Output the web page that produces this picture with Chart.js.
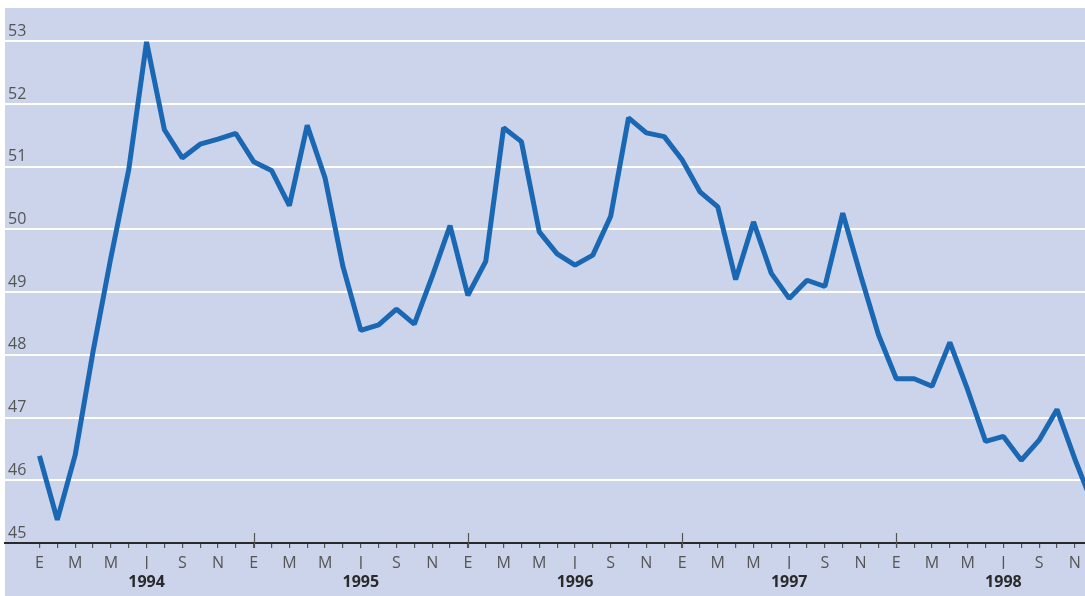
<!DOCTYPE html>
<html>
<head>
<meta charset="utf-8">
<title>Índice mensual 1994–1998</title>
<script src="https://cdn.jsdelivr.net/npm/chart.js@4.4.1/dist/chart.umd.min.js"></script>
<style>
  html, body { margin: 0; padding: 0; background: #ffffff; }
  canvas { display: block; }
</style>
</head>
<body>
<canvas id="chart" width="1085" height="596"></canvas>
<script>
// Years shown under the month axis
const years = ['1994', '1995', '1996', '1997', '1998'];

// Month initials (Spanish); only every second month is labelled
const monthInitials = ['E', 'F', 'M', 'A', 'M', 'J', 'J', 'A', 'S', 'O', 'N', 'D'];

// Monthly values, one array per year
const values1994 = [46.39, 45.37, 46.40, 48.05, 49.55, 50.95, 52.99, 51.59, 51.14, 51.36, 51.44, 51.53];
const values1995 = [51.08, 50.94, 50.38, 51.66, 50.82, 49.41, 48.39, 48.48, 48.73, 48.49, 49.25, 50.06];
const values1996 = [48.95, 49.49, 51.62, 51.40, 49.96, 49.61, 49.43, 49.59, 50.21, 51.78, 51.54, 51.48];
const values1997 = [51.11, 50.60, 50.36, 49.20, 50.12, 49.30, 48.90, 49.19, 49.09, 50.26, 49.27, 48.32];
const values1998 = [47.62, 47.62, 47.50, 48.20, 47.44, 46.62, 46.70, 46.32, 46.64, 47.13, 46.34, 45.62];

// Value axis ticks
const yTicks = [45, 46, 47, 48, 49, 50, 51, 52, 53];

const series = [].concat(values1994, values1995, values1996, values1997, values1998);
const points = series.map((v, i) => ({ x: i, y: v }));
const lastMonthIndex = series.length - 2; // last labelled month (N 1998)

const X_MIN = -1.93;
const X_MAX = 58.57;
const Y_MIN = 45;
const Y_MAX = 53.531;

const textColor = '#555555';
const fontFamily = '"Open Sans", Lato, sans-serif';

// Plot background and the taller year-boundary ticks
const framePlugin = {
  id: 'frame',
  beforeDraw(chart) {
    const { ctx, chartArea } = chart;
    ctx.save();
    ctx.fillStyle = '#cbd4ea';
    ctx.fillRect(chartArea.left, chartArea.top, chart.width - chartArea.left, chart.height - chartArea.top);
    ctx.restore();
  },
  afterDraw(chart) {
    const { ctx } = chart;
    const xs = chart.scales.x;
    const axisY = chart.scales.y.getPixelForValue(Y_MIN);
    ctx.save();
    ctx.strokeStyle = '#555555';
    ctx.lineWidth = 1.2;
    for (let k = 1; k < years.length; k++) {
      const px = Math.round(xs.getPixelForValue(12 * k)) + 0.5;
      ctx.beginPath();
      ctx.moveTo(px, axisY - 10);
      ctx.lineTo(px, axisY + 5);
      ctx.stroke();
    }
    ctx.restore();
  }
};

new Chart(document.getElementById('chart'), {
  type: 'line',
  data: {
    datasets: [{
      data: points,
      borderColor: '#1a67b4',
      borderWidth: 5,
      borderJoinStyle: 'bevel',
      borderCapStyle: 'butt',
      pointRadius: 0,
      tension: 0,
      fill: false
    }]
  },
  plugins: [framePlugin],
  options: {
    responsive: false,
    devicePixelRatio: 1,
    animation: false,
    layout: { padding: { top: 8, left: 5, right: 0, bottom: 0 } },
    plugins: { legend: { display: false }, tooltip: { enabled: false } },
    scales: {
      x: {
        type: 'linear',
        position: 'bottom',
        weight: 0,
        min: X_MIN,
        max: X_MAX,
        afterBuildTicks: (scale) => {
          const t = [];
          for (let i = 0; i <= lastMonthIndex; i++) t.push({ value: i });
          scale.ticks = t;
        },
        afterFit: (scale) => {
          scale.height = 26;
          scale.paddingLeft = 0;
          scale.paddingRight = 0;
        },
        grid: {
          drawOnChartArea: false,
          drawTicks: true,
          tickLength: 5,
          color: '#555555',
          lineWidth: 1.2
        },
        border: { display: true, color: '#2a2a2a', width: 2 },
        ticks: {
          autoSkip: false,
          maxRotation: 0,
          padding: 6,
          color: textColor,
          font: { family: fontFamily, size: 16, weight: 400 },
          callback: (value) => {
            const m = Math.round(value) % 12;
            return m % 2 === 0 ? monthInitials[m] : '';
          }
        }
      },
      yearAxis: {
        type: 'linear',
        axis: 'x',
        position: 'bottom',
        weight: 1,
        min: X_MIN,
        max: X_MAX,
        afterBuildTicks: (scale) => {
          scale.ticks = years.map((_, k) => ({ value: 12 * k + 6 }));
        },
        afterFit: (scale) => {
          scale.height = 27;
          scale.paddingLeft = 0;
          scale.paddingRight = 0;
        },
        grid: { display: false, drawTicks: false },
        border: { display: false },
        ticks: {
          autoSkip: false,
          maxRotation: 0,
          padding: 4,
          color: '#2a2a2a',
          font: { family: fontFamily, size: 16, weight: 'bold' },
          callback: (value) => years[Math.round((value - 6) / 12)]
        }
      },
      y: {
        type: 'linear',
        position: 'left',
        min: Y_MIN,
        max: Y_MAX,
        afterBuildTicks: (scale) => {
          scale.ticks = yTicks.map(v => ({ value: v }));
        },
        afterFit: (scale) => {
          scale.width = 0;
          scale.paddingTop = 0;
          scale.paddingBottom = 0;
        },
        grid: { color: '#ffffff', lineWidth: 2, drawTicks: false },
        border: { display: false },
        ticks: {
          mirror: true,
          padding: 3,
          labelOffset: -10,
          color: textColor,
          font: { family: fontFamily, size: 16, weight: 400 },
          callback: (value) => String(value)
        }
      }
    }
  }
});
</script>
</body>
</html>
